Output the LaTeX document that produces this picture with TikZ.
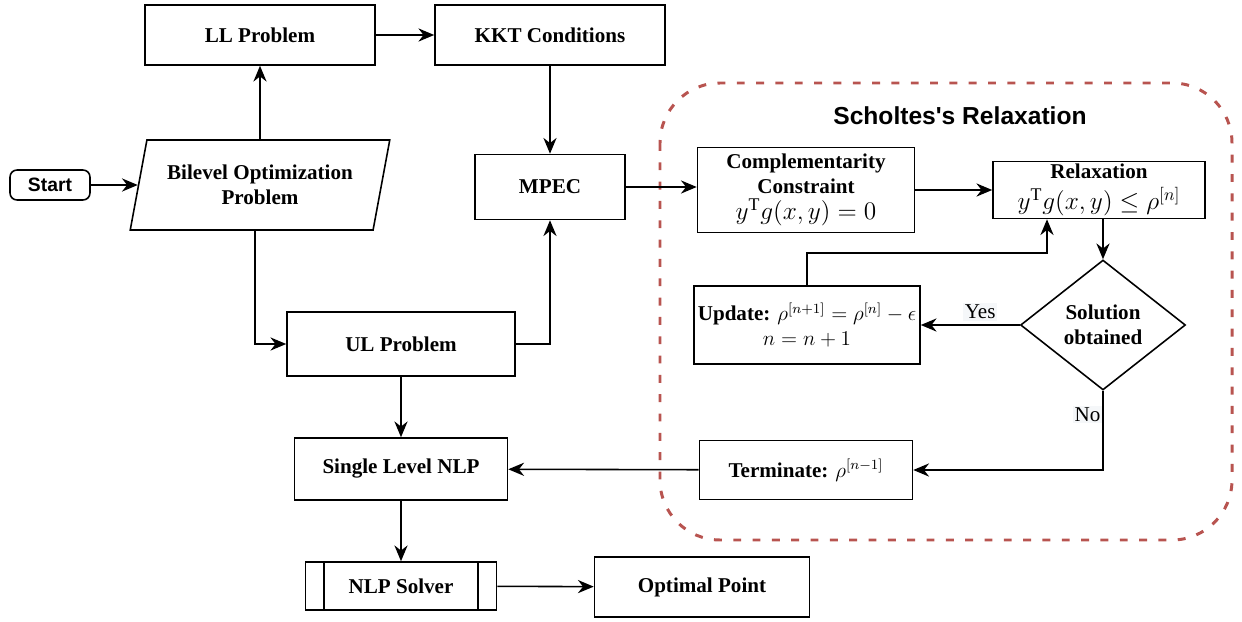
\documentclass[tikz,border=0pt]{standalone}
\usepackage{fontspec}
\setmainfont{Liberation Serif}
\newfontfamily\headfont{Liberation Sans}
\usepackage{tikz}
\definecolor{loopred}{RGB}{184,84,80}
\definecolor{tagbg}{RGB}{245,247,249}
\usetikzlibrary{shapes.geometric,arrows.meta}
\newcommand{\bigeq}[1]{{\fontsize{14.5}{16}\selectfont$#1$}}

\begin{document}
\begin{tikzpicture}[x=0.02cm,y=-0.02cm,
        font=\fontsize{12}{14}\selectfont\bfseries,
        box/.style={draw,line width=0.9pt,align=center,inner sep=2pt},
        link/.style={line width=0.9pt,-{Stealth[length=9pt,width=7.5pt]}},
        tag/.style={font=\fontsize{12}{14}\selectfont,fill=tagbg,inner sep=1pt}]
        \useasboundingbox (0,0) rectangle (1242,622);

        \draw[loopred,line width=1.7pt,dash pattern=on 4.5pt off 6.5pt,rounded corners=1.2cm]
            (660,83) rectangle (1232,540);
        \node[font=\headfont\bfseries\fontsize{14}{16}\selectfont] (title) at (960,116) {Scholtes's Relaxation};

        \node[box,rounded corners=4pt,minimum width=1.6cm,minimum height=0.6cm,font=\headfont\bfseries\fontsize{11}{13}\selectfont] (start) at (50,185) {Start};
        \node[box,trapezium,trapezium left angle=73,trapezium right angle=107,trapezium stretches=true,
            minimum width=5.2cm,minimum height=1.8cm] (bilevel) at (260,185) {Bilevel Optimization\\Problem};
        \node[box,minimum width=4.6cm,minimum height=1.2cm] (ll) at (260,35) {LL Problem};
        \node[box,minimum width=4.6cm,minimum height=1.2cm] (kkt) at (550,35) {KKT Conditions};
        \node[box,minimum width=3cm,minimum height=1.3cm] (mpec) at (550,187) {MPEC};
        \node[box,minimum width=4.56cm,minimum height=1.28cm] (ul) at (401,344) {UL Problem};
        \node[box,minimum width=4.26cm,minimum height=1.24cm] (single) at (401,469) {Single Level NLP};
        \node[box,minimum width=3.82cm,minimum height=0.96cm] (solver) at (401,586) {NLP Solver};
        \node[box,minimum width=4.3cm,minimum height=1.2cm] (optimal) at (702,587) {Optimal Point};
        \node[box,minimum width=4.34cm,minimum height=1.7cm,inner sep=1pt] (comp) at (806,190) {Complementarity\\Constraint\\[1pt]\bigeq{y^{\mathrm{T}}g(x,y)=0}};
        \node[box,minimum width=4.24cm,minimum height=1.14cm,inner sep=1pt] (relax) at (1099,190) {Relaxation\\[4pt]\bigeq{y^{\mathrm{T}}g(x,y)\le\rho^{[n]}}};
        \node[box,diamond,shape aspect=1.27,minimum width=3.3cm,minimum height=2.6cm,inner sep=0pt] (sol) at (1103,325) {Solution\\obtained};
        \node[box,minimum width=4.52cm,minimum height=1.56cm,inner sep=1pt] (update) at (807,325) {Update: $\rho^{[n+1]}=\rho^{[n]}-\epsilon$\\$n=n+1$};
        \node[box,minimum width=4.26cm,minimum height=1.18cm] (term) at (806,470) {Terminate: $\rho^{[n-1]}$};

        \draw[line width=0.9pt] ([xshift=0.38cm]solver.north west) -- ([xshift=0.38cm]solver.south west);
        \draw[line width=0.9pt] ([xshift=-0.38cm]solver.north east) -- ([xshift=-0.38cm]solver.south east);

        \coordinate (back) at (1047,253);

        \draw[link] (start) -- (bilevel);
        \draw[link] (bilevel) -- (ll);
        \draw[link] (ll) -- (kkt);
        \draw[link] (kkt) -- (mpec);
        \draw[link] ([xshift=-0.1cm]bilevel.south) |- (ul.west);
        \draw[link] (ul.east) -| (mpec.south);
        \draw[link] (mpec.east) -- (mpec.east -| comp.west);
        \draw[link] (comp) -- (relax);
        \draw[link] (relax.south -| sol.north) -- (sol.north);
        \draw[link] (sol) -- node[tag,above=2pt,pos=0.4] (yes) {Yes} (update);
        \draw[link] (update.north) |- (back) -- (back |- relax.south);
        \draw[link] (sol.south) |- node[tag,left,pos=0.15] (no) {No} (term.east);
        \draw[link] (term) -- (single);
        \draw[link] (ul) -- (single);
        \draw[link] (single) -- (solver);
        \draw[link] (solver) -- (optimal);
    \end{tikzpicture}
\end{document}
